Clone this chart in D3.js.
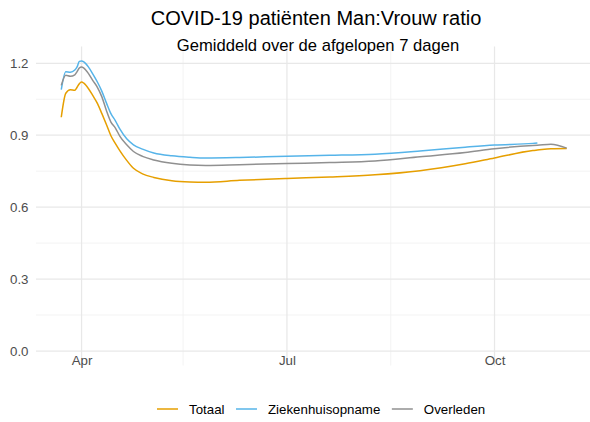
<!DOCTYPE html>
<html>
<head>
<meta charset="utf-8">
<script src="https://cdn.jsdelivr.net/npm/d3@7"></script>
<style>
  html, body { margin: 0; padding: 0; background: #fff; }
  svg { display: block; font-family: "Liberation Sans", Arial, Helvetica, sans-serif; }
</style>
</head>
<body>
<svg id="chart" width="590" height="422"></svg>
<script>
// ---- data ----
const dates = ["2020-03-23","2020-03-25","2020-03-27","2020-03-29","2020-03-30","2020-03-31",
  "2020-04-01","2020-04-02","2020-04-04","2020-04-06","2020-04-08","2020-04-10","2020-04-12",
  "2020-04-14","2020-04-16","2020-04-18","2020-04-21","2020-04-24","2020-04-28","2020-05-03",
  "2020-05-11","2020-05-19","2020-05-26","2020-06-10","2020-07-01","2020-07-20","2020-08-09",
  "2020-08-29","2020-09-18","2020-10-01","2020-10-18","2020-10-20","2020-10-26","2020-11-02"];

const totaal = [0.975,1.075,1.09,1.088,1.10,1.115,
  1.122,1.117,1.095,1.065,1.033,0.99,0.945,
  0.898,0.865,0.835,0.795,0.762,0.739,0.724,
  0.71,0.705,0.704,0.712,0.72,0.726,0.735,
  0.752,0.781,0.805,0.836,0.838,0.844,0.845];

const ziekenhuisopname = [1.09,1.165,1.163,1.172,1.185,1.208,
  1.21,1.206,1.185,1.155,1.122,1.083,1.035,
  0.99,0.96,0.925,0.885,0.86,0.842,0.826,
  0.814,0.808,0.805,0.807,0.8125,0.816,0.821,
  0.834,0.85,0.859,0.866,0.868,null,null];

const overleden = [1.108,1.15,1.146,1.152,1.165,1.18,
  1.185,1.18,1.158,1.128,1.10,1.06,1.003,
  0.955,0.93,0.895,0.86,0.832,0.812,0.797,
  0.783,0.776,0.774,0.777,0.782,0.786,0.792,
  0.81,0.828,0.844,0.857,0.858,0.8625,0.846];

const seriesNames = ["Totaal", "Ziekenhuisopname", "Overleden"];
const seriesColors = ["#E69F00", "#56B4E9", "#909090"];
const yTicks = [0.0, 0.3, 0.6, 0.9, 1.2];
const yMinorTicks = [0.15, 0.45, 0.75, 1.05];
const xTicks = ["2020-04-01", "2020-07-01", "2020-10-01"];
const xTickLabels = ["Apr", "Jul", "Oct"];
const xMinorTicks = ["2020-05-16", "2020-08-16"];
const title = "COVID-19 patiënten Man:Vrouw ratio";
const subtitle = "Gemiddeld over de afgelopen 7 dagen";

// ---- chart ----
const parse = d3.utcParse("%Y-%m-%d");
const svg = d3.select("#chart");
const panel = { left: 36, right: 592, top: 46.4, bottom: 365.5 };

const ext = d3.extent(dates, parse);
const span = ext[1] - ext[0];
const x = d3.scaleUtc()
  .domain([new Date(+ext[0] - 0.05 * span), new Date(+ext[1] + 0.05 * span)])
  .range([panel.left, panel.right]);
const y = d3.scaleLinear().domain([0, 1.2]).range([351, 63.3]);

const grid = svg.append("g");
// minor grid
grid.selectAll("line.ymin").data(yMinorTicks).enter().append("line")
  .attr("x1", panel.left).attr("x2", 590)
  .attr("y1", d => y(d)).attr("y2", d => y(d))
  .attr("stroke", "#f0f0f0").attr("stroke-width", 0.8);
grid.selectAll("line.xmin").data(xMinorTicks).enter().append("line")
  .attr("x1", d => x(parse(d))).attr("x2", d => x(parse(d)))
  .attr("y1", panel.top).attr("y2", panel.bottom)
  .attr("stroke", "#f0f0f0").attr("stroke-width", 0.8);
// major grid
grid.selectAll("line.ymaj").data(yTicks).enter().append("line")
  .attr("x1", panel.left).attr("x2", 590)
  .attr("y1", d => y(d)).attr("y2", d => y(d))
  .attr("stroke", "#e8e8e8").attr("stroke-width", 1.25);
grid.selectAll("line.xmaj").data(xTicks).enter().append("line")
  .attr("x1", d => x(parse(d))).attr("x2", d => x(parse(d)))
  .attr("y1", panel.top).attr("y2", panel.bottom)
  .attr("stroke", "#e8e8e8").attr("stroke-width", 1.25);

// axes (labels only)
const yAxis = d3.axisLeft(y).tickValues(yTicks).tickFormat(d3.format(".1f")).tickSize(0).tickPadding(0);
svg.append("g").attr("transform", "translate(28.5,0)").call(yAxis)
  .call(g => g.select(".domain").remove())
  .call(g => g.selectAll("text").attr("fill", "#4d4d4d").style("font-size", "13.3px")
    .style("font-family", "Liberation Sans, Arial, sans-serif"));

const xAxis = d3.axisBottom(x).tickValues(xTicks.map(parse))
  .tickFormat((d, i) => xTickLabels[i]).tickSize(0).tickPadding(0);
svg.append("g").attr("transform", "translate(0,356)").call(xAxis)
  .call(g => g.select(".domain").remove())
  .call(g => g.selectAll("text").attr("fill", "#4d4d4d").style("font-size", "13.3px")
    .style("font-family", "Liberation Sans, Arial, sans-serif"));

// lines
const seriesData = [totaal, ziekenhuisopname, overleden];
const line = d3.line()
  .defined(d => d.v !== null)
  .x(d => x(d.date)).y(d => y(d.v))
  .curve(d3.curveMonotoneX);
seriesData.forEach((vals, i) => {
  const pts = dates.map((d, j) => ({ date: parse(d), v: vals[j] }));
  svg.append("path").datum(pts)
    .attr("d", line)
    .attr("fill", "none")
    .attr("stroke", seriesColors[i])
    .attr("stroke-width", 1.5)
    .attr("stroke-linejoin", "round");
});

// titles
svg.append("text").attr("x", 316).attr("y", 25).attr("text-anchor", "middle")
  .style("font-size", "20px").attr("fill", "#000").text(title);
svg.append("text").attr("x", 318).attr("y", 51).attr("text-anchor", "middle")
  .style("font-size", "16.6px").attr("fill", "#000").text(subtitle);

// legend
const leg = svg.append("g").attr("transform", "translate(157,409)");
let cx = 0;
seriesNames.forEach((name, i) => {
  const g = leg.append("g").attr("transform", `translate(${cx},0)`);
  g.append("line").attr("x1", 0).attr("x2", 21).attr("y1", 0).attr("y2", 0)
    .attr("stroke", seriesColors[i]).attr("stroke-width", 1.5);
  const t = g.append("text").attr("x", 32).attr("y", 0).attr("dy", "0.35em")
    .style("font-size", "13.3px").attr("fill", "#000").text(name);
  cx += 32 + t.node().getComputedTextLength() + 11.5;
});
</script>
</body>
</html>
